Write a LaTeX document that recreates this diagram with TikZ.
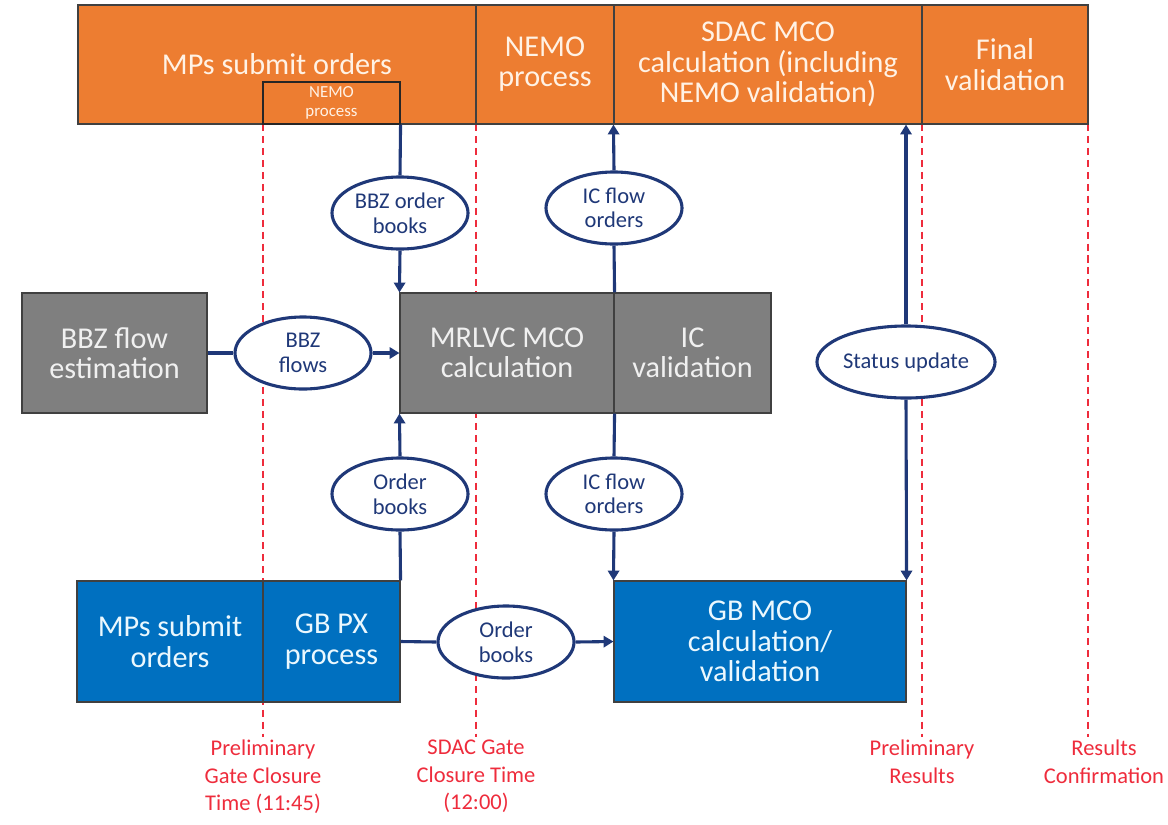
\documentclass[tikz,border=0pt]{standalone}
\usepackage{fontspec}
\setmainfont{Carlito}
\usetikzlibrary{arrows.meta,positioning,shapes.geometric}

\definecolor{barorange}{HTML}{ED7D31}
\definecolor{boxgrey}{HTML}{7F7F7F}
\definecolor{boxblue}{HTML}{0070C0}
\definecolor{flownavy}{HTML}{1F3878}
\definecolor{markred}{HTML}{EE2C3C}

\begin{document}
\begin{tikzpicture}[
  x=0.025cm, y=-0.025cm,
  font=\fontsize{21.5}{21.5}\selectfont,
  stage/.style={draw=black!75, line width=0.8pt, inner sep=0pt, align=center},
  size/.style 2 args={minimum width=#1*0.025cm, minimum height=#2*0.025cm},
  orangebox/.style={stage, fill=barorange, text=orange!10},
  greybox/.style={stage, fill=boxgrey, text=black!6, size={#1}{120}},
  bluebox/.style={stage, fill=boxblue, text=cyan!8, size={#1}{121}},
  flow/.style={ellipse, draw=flownavy, line width=2.2pt, fill=white, minimum width=3.4cm, minimum height=1.8cm, inner sep=0pt, align=center, text=flownavy, font=\fontsize{16}{17.5}\selectfont},
  arrowF/.style={draw=flownavy, line width=2.2pt, -{Triangle[length=7pt, width=8pt]}},
  lineF/.style={draw=flownavy, line width=2.2pt},
  gate/.style={draw=markred, line width=1.5pt, dash pattern=on 5pt off 3.5pt},
  gatelabel/.style={anchor=north, align=center, inner sep=2pt, text=markred, font=\fontsize{16}{19.5}\selectfont}
]
\useasboundingbox (0,0) rectangle (1168,824);

% Gate closure and result markers (behind the boxes)
\coordinate (pgcttop) at (263,124);
\coordinate (sgcttop) at (476,124);
\coordinate (prestop) at (922,124);
\coordinate (rconftop) at (1088,124);
\node[gatelabel] (pgct) at (263,737) {Preliminary\\Gate Closure\\Time (11:45)};
\node[gatelabel] (sgct) at (476,737) {SDAC Gate\\Closure Time\\(12:00)};
\node[gatelabel] (pres) at (922,737) {Preliminary\\Results};
\node[gatelabel] (rconf) at (1104,737) {Results\\Confirmation};
\draw[gate] (pgcttop) -- (pgct.north);
\draw[gate] (sgcttop) -- (sgct.north);
\draw[gate] (prestop) -- (pres.north);
\draw[gate] (rconftop) -- (rconftop |- rconf.north);

% SDAC timeline
\node[orangebox, size={398}{119}] (submit) at (277,64.5) {MPs submit orders};
\node[orangebox, size={138}{119}] (nemo) at (545,64.5) {NEMO\\process};
\node[orangebox, size={308}{119}] (sdac) at (768,64.5) {SDAC MCO\\calculation (including\\NEMO validation)};
\node[orangebox, size={166}{119}] (final) at (1005,64.5) {Final\\validation};
\node[orangebox, draw=black!85, size={137}{42}, font=\fontsize{12}{14}\selectfont] (nemosmall) at (331.5,103) {NEMO\\process};

% MRLVC
\node[greybox=185] (bbzest) at (114.5,353) {BBZ flow\\estimation};
\node[greybox=214] (mrlvc) at (507,353) {MRLVC MCO\\calculation};
\node[greybox=157] (icval) at (692.5,353) {IC\\validation};

% GB
\node[bluebox=186] (mpsubmit) at (170,641.5) {MPs submit\\orders};
\node[bluebox=137] (gbpx) at (331.5,641.5) {GB PX\\process};
\node[bluebox=292] (gbmco) at (760,641.5) {GB MCO\\calculation/\\validation};

% Data exchanged
\node[flow] (bbzbooks) at (400,213) {BBZ order\\books};
\node[flow] (icup) at (614,208) {IC flow\\orders};
\node[flow] (bbzflows) at (303,353) {BBZ\\flows};
\node[flow, minimum width=3.55cm] (status) at (906,362) {Status update};
\node[flow] (orderup) at (400,494) {Order\\books};
\node[flow] (icdown) at (614,494) {IC flow\\orders};
\node[flow] (orderright) at (506,642) {Order\\books};

\draw[lineF] (nemosmall.south east) -- (bbzbooks.north);
\draw[arrowF] (bbzbooks.south) -- (mrlvc.north west);
\draw[lineF] (mrlvc.north east) -- (icup.south);
\draw[arrowF] (icup.north) -- (sdac.south west);
\draw[lineF] (bbzest.east) -- (bbzflows.west);
\draw[arrowF] (bbzflows.east) -- (mrlvc.west);
\draw[lineF] (gbpx.north east) -- (orderup.south);
\draw[arrowF] (orderup.north) -- (mrlvc.south west);
\draw[lineF] (mrlvc.south east) -- (icdown.north);
\draw[arrowF] (icdown.south) -- (gbmco.north west);
\draw[arrowF] (status.north) -- (status.north |- sdac.south);
\draw[arrowF] (status.south) -- (gbmco.north east);
\draw[lineF] (gbpx.east) -- (orderright.west);
\draw[arrowF] (orderright.east) -- (gbmco.west);
\end{tikzpicture}
\end{document}
